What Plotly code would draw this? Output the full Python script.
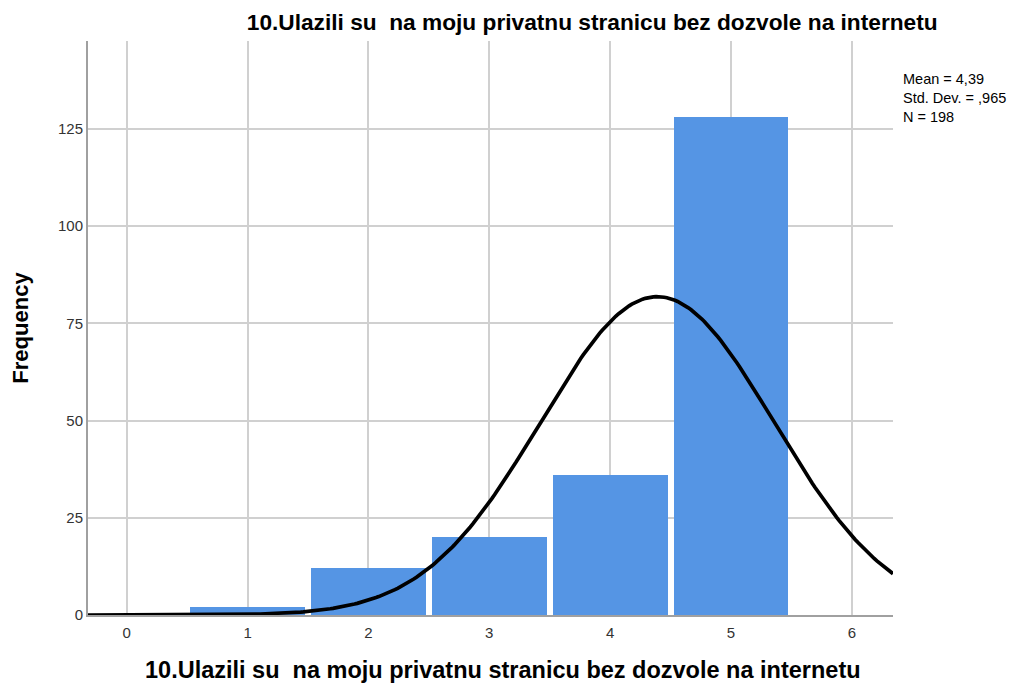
import numpy as np
import plotly.graph_objects as go

# histogram data
categories = [1, 2, 3, 4, 5]
frequency = [2, 12, 20, 36, 128]

# summary stats shown on the chart (drive the normal curve)
mean_val = 4.39
std_dev = 0.965
n_total = 198

title_text = "10.Ulazili su \u00a0na moju privatnu stranicu bez dozvole na internetu"

x_range = [-0.32, 6.34]
y_range = [0, 147.6]

curve_x = np.linspace(x_range[0], x_range[1], 300)
curve_y = n_total * 1.0 / (std_dev * np.sqrt(2 * np.pi)) * np.exp(-0.5 * ((curve_x - mean_val) / std_dev) ** 2)

fig = go.Figure()
fig.add_trace(go.Bar(
    x=categories, y=frequency, width=0.95,
    marker=dict(color="#5595E4", line=dict(width=0)),
    showlegend=False,
))
fig.add_trace(go.Scatter(
    x=curve_x, y=curve_y, mode="lines",
    line=dict(color="black", width=3.7),
    showlegend=False,
))

font_family = "Liberation Sans, Arial, sans-serif"

# page body adds an 8px offset, so margins are shifted to compensate
fig.update_layout(
    width=1016, height=683,
    margin=dict(l=80, r=131, t=33, b=76),
    plot_bgcolor="white", paper_bgcolor="white",
    font=dict(family=font_family, color="#222222"),
    bargap=0,
    title=dict(
        text="<b>" + title_text + "</b>", x=0.575, xanchor="center", y=0.9795, yanchor="middle",
        font=dict(size=22.7, color="black", family=font_family),
    ),
)
fig.update_xaxes(
    range=x_range, tickvals=[0, 1, 2, 3, 4, 5, 6],
    showgrid=True, gridcolor="#d0d0d0", gridwidth=1.5,
    showline=True, linecolor="#a0a0a0", linewidth=2,
    zeroline=False, ticks="", tickfont=dict(size=15, color="#333333"),
    ticklabelstandoff=3,
    automargin=False,
)
fig.update_yaxes(
    range=y_range, tickvals=[0, 25, 50, 75, 100, 125],
    showgrid=True, gridcolor="#d0d0d0", gridwidth=1.5,
    showline=True, linecolor="#a0a0a0", linewidth=2,
    zeroline=False, ticks="", tickfont=dict(size=15, color="#333333"),
    title=dict(text="<b>Frequency</b>", font=dict(size=22, color="black"), standoff=28),
    automargin=False,
)

# x-axis title sits slightly right of the plot centre in the reference
fig.add_annotation(
    xref="paper", yref="paper", x=0.516, y=-0.0958, xanchor="center", yanchor="middle",
    text="<b>" + title_text + "</b>", showarrow=False,
    font=dict(size=23.5, color="black"),
)

fig.add_annotation(
    xref="paper", yref="paper", x=1.01, y=0.951, xanchor="left", yanchor="top",
    text="Mean = 4,39<br>Std. Dev. = ,965<br>N = 198", showarrow=False, align="left",
    font=dict(size=14.5, color="black"),
)

fig.write_html("out.html")
